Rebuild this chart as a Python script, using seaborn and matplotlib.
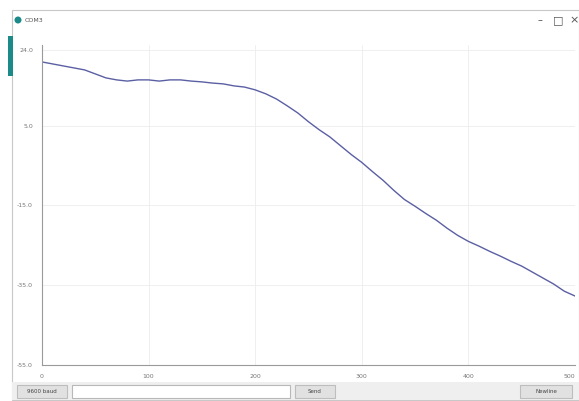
import numpy as np
import pandas as pd
import matplotlib.pyplot as plt
import matplotlib.patches as mpatches
import seaborn as sns

# ── Data ─────────────────────────────────────────────────────────────
sample = list(range(0, 501, 10))
value = [21.0, 20.5, 20.0, 19.5, 19.0, 18.0, 17.0, 16.5, 16.2, 16.5,
         16.5, 16.2, 16.5, 16.5, 16.2, 16.0, 15.7, 15.5, 15.0, 14.7,
         14.0, 13.0, 11.7, 10.0, 8.2, 6.0, 4.0, 2.2, 0.0, -2.2,
         -4.2, -6.5, -8.7, -11.2, -13.5, -15.2, -17.0, -18.7, -20.7, -22.5,
         -24.0, -25.2, -26.5, -27.7, -29.0, -30.2, -31.7, -33.2, -34.7, -36.5,
         -37.7]
y_ticks = [24.0, 5.0, -15.0, -35.0, -55.0]
x_ticks = [0, 100, 200, 300, 400, 500]

df = pd.DataFrame({'sample': sample, 'value': value})

sns.set_style('white')
plt.rcParams['font.family'] = ['DejaVu Sans']

W, H = 579, 401
fig = plt.figure(figsize=(W / 100, H / 100), dpi=100)
fig.patch.set_facecolor('white')

def box(x, y, w, h, fc, ec='none', lw=0.8):
    # pixel coords from top-left
    fig.patches.append(mpatches.Rectangle((x / W, 1 - (y + h) / H), w / W, h / H,
                                          transform=fig.transFigure, fc=fc, ec=ec,
                                          lw=lw, zorder=-10))

# ── Window chrome ────────────────────────────────────────────────────
box(12, 10, 567, 390, 'white', '#c8c8c8')
box(12, 382, 567, 18, '#efefef')
box(8, 36, 5, 40, '#1d8a8a')
box(72, 385, 218, 13, 'white', '#b8b8b8')
box(295, 385, 40, 13, '#e1e1e1', '#bdbdbd')
box(17, 385, 50, 13, '#e1e1e1', '#bdbdbd')
box(520, 385, 52, 13, '#e1e1e1', '#bdbdbd')
fig.patches.append(mpatches.Ellipse((18 / W, 1 - 20 / H), 7 / W, 7 / H,
                                    transform=fig.transFigure, fc='#1d8a8a', ec='none',
                                    zorder=-5))
fig.text(25 / W, 1 - 20 / H, 'COM3', fontsize=4.5, color='#555555', va='center')
fig.text(540 / W, 1 - 20 / H, '–', fontsize=7, color='#555555', va='center', ha='center')
fig.text(558 / W, 1 - 20 / H, '□', fontsize=8, color='#555555', va='center', ha='center')
fig.text(574 / W, 1 - 20 / H, '×', fontsize=8, color='#555555', va='center', ha='center')
fig.text(42 / W, 1 - 391.5 / H, '9600 baud', fontsize=4, color='#444444', va='center', ha='center')
fig.text(315 / W, 1 - 391.5 / H, 'Send', fontsize=4, color='#444444', va='center', ha='center')
fig.text(546 / W, 1 - 391.5 / H, 'Newline', fontsize=4, color='#444444', va='center', ha='center')

# ── Plot ─────────────────────────────────────────────────────────────
ax = fig.add_axes([42 / W, 1 - 365 / H, 533 / W, 320 / H])
ax.set_facecolor('none')
sns.lineplot(data=df, x='sample', y='value', ax=ax, color='#5b5fa3', linewidth=1.0)
ax.set_xlim(0, 500)
ax.set_ylim(-55, 25.25)
ax.set_yticks(y_ticks)
ax.set_yticklabels([f'{t:.1f}' for t in y_ticks])
ax.set_xticks(x_ticks)
ax.set_xticklabels([str(t) for t in x_ticks])
ax.get_xticklabels()[-1].set_ha('right')
ax.grid(True, color='#ececec', linewidth=0.6)
for s in ['top', 'right']:
    ax.spines[s].set_visible(False)
for s in ['left', 'bottom']:
    ax.spines[s].set_color('#9a9a9a')
    ax.spines[s].set_linewidth(0.8)
ax.tick_params(axis='both', labelsize=4.5, colors='#9a9a9a', labelcolor='#777777',
               length=3, width=0.6, direction='out')
ax.set_xlabel('')
ax.set_ylabel('')

plt.savefig('out.png', dpi=100)
